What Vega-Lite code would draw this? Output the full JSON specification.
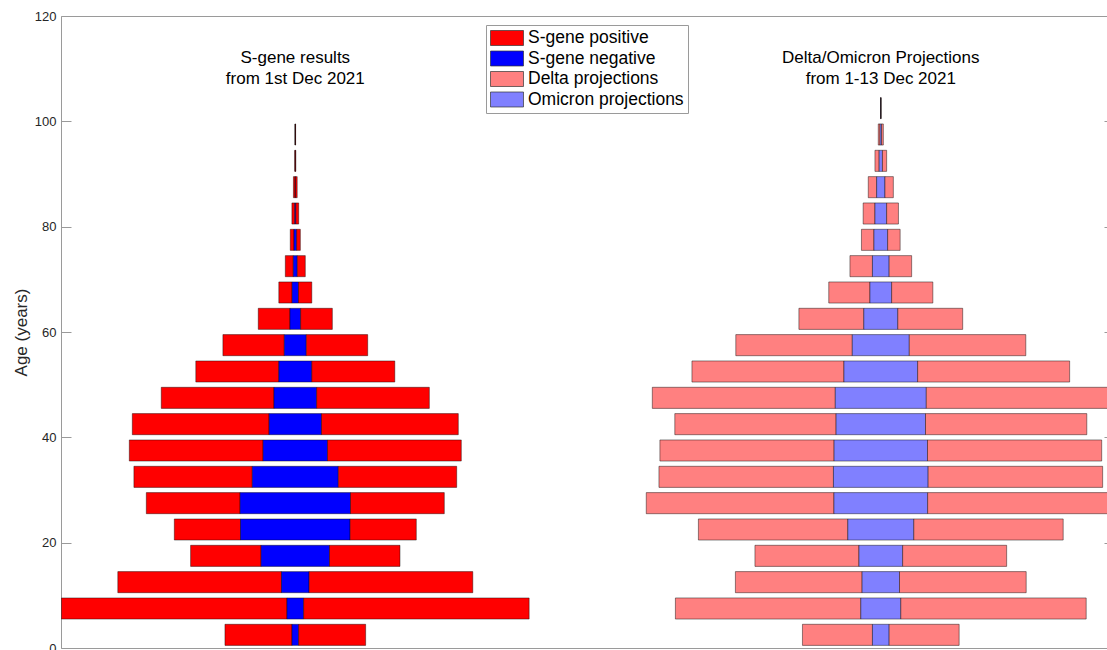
{
  "$schema": "https://vega.github.io/schema/vega-lite/v6.json",
  "width": 1046,
  "height": 632,
  "autosize": {"type": "none"},
  "padding": {"left": 61, "top": 16, "right": 0, "bottom": 2},
  "background": "white",
  "datasets": {
    "sgene": [
      {"age": 2.5, "type": "S-gene positive", "order": 1, "value": 67.0},
      {"age": 2.5, "type": "S-gene negative", "order": 2, "value": 6.7},
      {"age": 2.5, "type": "S-gene positive", "order": 3, "value": 67.0},
      {"age": 7.5, "type": "S-gene positive", "order": 1, "value": 225.5},
      {"age": 7.5, "type": "S-gene negative", "order": 2, "value": 16.7},
      {"age": 7.5, "type": "S-gene positive", "order": 3, "value": 225.5},
      {"age": 12.5, "type": "S-gene positive", "order": 1, "value": 163.7},
      {"age": 12.5, "type": "S-gene negative", "order": 2, "value": 27.6},
      {"age": 12.5, "type": "S-gene positive", "order": 3, "value": 163.7},
      {"age": 17.5, "type": "S-gene positive", "order": 1, "value": 70.5},
      {"age": 17.5, "type": "S-gene negative", "order": 2, "value": 68.4},
      {"age": 17.5, "type": "S-gene positive", "order": 3, "value": 70.5},
      {"age": 22.5, "type": "S-gene positive", "order": 1, "value": 66.2},
      {"age": 22.5, "type": "S-gene negative", "order": 2, "value": 109.6},
      {"age": 22.5, "type": "S-gene positive", "order": 3, "value": 66.2},
      {"age": 27.5, "type": "S-gene positive", "order": 1, "value": 93.8},
      {"age": 27.5, "type": "S-gene negative", "order": 2, "value": 110.4},
      {"age": 27.5, "type": "S-gene positive", "order": 3, "value": 93.8},
      {"age": 32.5, "type": "S-gene positive", "order": 1, "value": 118.4},
      {"age": 32.5, "type": "S-gene negative", "order": 2, "value": 86.0},
      {"age": 32.5, "type": "S-gene positive", "order": 3, "value": 118.4},
      {"age": 37.5, "type": "S-gene positive", "order": 1, "value": 133.8},
      {"age": 37.5, "type": "S-gene negative", "order": 2, "value": 64.4},
      {"age": 37.5, "type": "S-gene positive", "order": 3, "value": 133.8},
      {"age": 42.5, "type": "S-gene positive", "order": 1, "value": 136.8},
      {"age": 42.5, "type": "S-gene negative", "order": 2, "value": 52.4},
      {"age": 42.5, "type": "S-gene positive", "order": 3, "value": 136.8},
      {"age": 47.5, "type": "S-gene positive", "order": 1, "value": 112.7},
      {"age": 47.5, "type": "S-gene negative", "order": 2, "value": 42.7},
      {"age": 47.5, "type": "S-gene positive", "order": 3, "value": 112.7},
      {"age": 52.5, "type": "S-gene positive", "order": 1, "value": 83.0},
      {"age": 52.5, "type": "S-gene negative", "order": 2, "value": 33.0},
      {"age": 52.5, "type": "S-gene positive", "order": 3, "value": 83.0},
      {"age": 57.5, "type": "S-gene positive", "order": 1, "value": 61.4},
      {"age": 57.5, "type": "S-gene negative", "order": 2, "value": 22.0},
      {"age": 57.5, "type": "S-gene positive", "order": 3, "value": 61.4},
      {"age": 62.5, "type": "S-gene positive", "order": 1, "value": 31.7},
      {"age": 62.5, "type": "S-gene negative", "order": 2, "value": 10.7},
      {"age": 62.5, "type": "S-gene positive", "order": 3, "value": 31.7},
      {"age": 67.5, "type": "S-gene positive", "order": 1, "value": 13.3},
      {"age": 67.5, "type": "S-gene negative", "order": 2, "value": 6.4},
      {"age": 67.5, "type": "S-gene positive", "order": 3, "value": 13.3},
      {"age": 72.5, "type": "S-gene positive", "order": 1, "value": 8.0},
      {"age": 72.5, "type": "S-gene negative", "order": 2, "value": 4.0},
      {"age": 72.5, "type": "S-gene positive", "order": 3, "value": 8.0},
      {"age": 77.5, "type": "S-gene positive", "order": 1, "value": 3.7},
      {"age": 77.5, "type": "S-gene negative", "order": 2, "value": 2.7},
      {"age": 77.5, "type": "S-gene positive", "order": 3, "value": 3.7},
      {"age": 82.5, "type": "S-gene positive", "order": 1, "value": 2.9},
      {"age": 82.5, "type": "S-gene negative", "order": 2, "value": 1.0},
      {"age": 82.5, "type": "S-gene positive", "order": 3, "value": 2.9},
      {"age": 87.5, "type": "S-gene positive", "order": 1, "value": 1.7},
      {"age": 87.5, "type": "S-gene negative", "order": 2, "value": 0.4},
      {"age": 87.5, "type": "S-gene positive", "order": 3, "value": 1.7},
      {"age": 92.5, "type": "S-gene positive", "order": 1, "value": 0.5},
      {"age": 92.5, "type": "S-gene negative", "order": 2, "value": 0.1},
      {"age": 92.5, "type": "S-gene positive", "order": 3, "value": 0.5},
      {"age": 97.5, "type": "S-gene positive", "order": 1, "value": 0.3},
      {"age": 97.5, "type": "S-gene negative", "order": 2, "value": 0.05},
      {"age": 97.5, "type": "S-gene positive", "order": 3, "value": 0.3}
    ],
    "proj": [
      {"age": 2.5, "type": "Delta projections", "order": 1, "value": 70.0},
      {"age": 2.5, "type": "Omicron projections", "order": 2, "value": 16.7},
      {"age": 2.5, "type": "Delta projections", "order": 3, "value": 70.0},
      {"age": 7.5, "type": "Delta projections", "order": 1, "value": 185.4},
      {"age": 7.5, "type": "Omicron projections", "order": 2, "value": 40.0},
      {"age": 7.5, "type": "Delta projections", "order": 3, "value": 185.4},
      {"age": 12.5, "type": "Delta projections", "order": 1, "value": 126.7},
      {"age": 12.5, "type": "Omicron projections", "order": 2, "value": 37.4},
      {"age": 12.5, "type": "Delta projections", "order": 3, "value": 126.7},
      {"age": 17.5, "type": "Delta projections", "order": 1, "value": 104.0},
      {"age": 17.5, "type": "Omicron projections", "order": 2, "value": 43.7},
      {"age": 17.5, "type": "Delta projections", "order": 3, "value": 104.0},
      {"age": 22.5, "type": "Delta projections", "order": 1, "value": 149.4},
      {"age": 22.5, "type": "Omicron projections", "order": 2, "value": 66.0},
      {"age": 22.5, "type": "Delta projections", "order": 3, "value": 149.4},
      {"age": 27.5, "type": "Delta projections", "order": 1, "value": 187.7},
      {"age": 27.5, "type": "Omicron projections", "order": 2, "value": 93.7},
      {"age": 27.5, "type": "Delta projections", "order": 3, "value": 187.7},
      {"age": 32.5, "type": "Delta projections", "order": 1, "value": 174.5},
      {"age": 32.5, "type": "Omicron projections", "order": 2, "value": 94.7},
      {"age": 32.5, "type": "Delta projections", "order": 3, "value": 174.5},
      {"age": 37.5, "type": "Delta projections", "order": 1, "value": 174.2},
      {"age": 37.5, "type": "Omicron projections", "order": 2, "value": 93.4},
      {"age": 37.5, "type": "Delta projections", "order": 3, "value": 174.2},
      {"age": 42.5, "type": "Delta projections", "order": 1, "value": 161.3},
      {"age": 42.5, "type": "Omicron projections", "order": 2, "value": 89.4},
      {"age": 42.5, "type": "Delta projections", "order": 3, "value": 161.3},
      {"age": 47.5, "type": "Delta projections", "order": 1, "value": 183.0},
      {"age": 47.5, "type": "Omicron projections", "order": 2, "value": 91.0},
      {"age": 47.5, "type": "Delta projections", "order": 3, "value": 183.0},
      {"age": 52.5, "type": "Delta projections", "order": 1, "value": 152.0},
      {"age": 52.5, "type": "Omicron projections", "order": 2, "value": 73.7},
      {"age": 52.5, "type": "Delta projections", "order": 3, "value": 152.0},
      {"age": 57.5, "type": "Delta projections", "order": 1, "value": 116.5},
      {"age": 57.5, "type": "Omicron projections", "order": 2, "value": 57.0},
      {"age": 57.5, "type": "Delta projections", "order": 3, "value": 116.5},
      {"age": 62.5, "type": "Delta projections", "order": 1, "value": 64.9},
      {"age": 62.5, "type": "Omicron projections", "order": 2, "value": 34.0},
      {"age": 62.5, "type": "Delta projections", "order": 3, "value": 64.9},
      {"age": 67.5, "type": "Delta projections", "order": 1, "value": 41.2},
      {"age": 67.5, "type": "Omicron projections", "order": 2, "value": 21.7},
      {"age": 67.5, "type": "Delta projections", "order": 3, "value": 41.2},
      {"age": 72.5, "type": "Delta projections", "order": 1, "value": 22.5},
      {"age": 72.5, "type": "Omicron projections", "order": 2, "value": 16.7},
      {"age": 72.5, "type": "Delta projections", "order": 3, "value": 22.5},
      {"age": 77.5, "type": "Delta projections", "order": 1, "value": 12.5},
      {"age": 77.5, "type": "Omicron projections", "order": 2, "value": 13.7},
      {"age": 77.5, "type": "Delta projections", "order": 3, "value": 12.5},
      {"age": 82.5, "type": "Delta projections", "order": 1, "value": 11.8},
      {"age": 82.5, "type": "Omicron projections", "order": 2, "value": 11.7},
      {"age": 82.5, "type": "Delta projections", "order": 3, "value": 11.8},
      {"age": 87.5, "type": "Delta projections", "order": 1, "value": 8.4},
      {"age": 87.5, "type": "Omicron projections", "order": 2, "value": 8.3},
      {"age": 87.5, "type": "Delta projections", "order": 3, "value": 8.4},
      {"age": 92.5, "type": "Delta projections", "order": 1, "value": 4.2},
      {"age": 92.5, "type": "Omicron projections", "order": 2, "value": 3.3},
      {"age": 92.5, "type": "Delta projections", "order": 3, "value": 4.2},
      {"age": 97.5, "type": "Delta projections", "order": 1, "value": 1.8},
      {"age": 97.5, "type": "Omicron projections", "order": 2, "value": 1.5},
      {"age": 97.5, "type": "Delta projections", "order": 3, "value": 1.8},
      {"age": 102.5, "type": "Delta projections", "order": 1, "value": 0.2},
      {"age": 102.5, "type": "Omicron projections", "order": 2, "value": 0.2},
      {"age": 102.5, "type": "Delta projections", "order": 3, "value": 0.2}
    ]
  },
  "layer": [
    {
      "data": {"name": "sgene"},
      "layer": [
        {
          "mark": {"type": "bar", "orient": "horizontal", "height": 21.1, "clip": true, "stroke": "#000000", "strokeWidth": 0.6, "strokeOpacity": 0.7},
          "encoding": {
            "y": {"field": "age", "type": "quantitative", "scale": {"domain": [0, 120], "nice": false, "zero": true, "padding": 0},
                  "axis": {"title": "Age (years)", "values": [0, 20, 40, 60, 80, 100, 120], "orient": "left", "tickSize": -10, "labelPadding": 15, "domain": true}},
            "x": {"field": "value", "type": "quantitative", "stack": "center",
                  "scale": {"domain": [-0.45, 1045.55], "nice": false, "zero": false},
                  "axis": {"orient": "bottom", "domain": true, "ticks": false, "labels": false, "title": null, "grid": false}},
            "order": {"field": "order", "type": "quantitative"},
            "color": {"field": "type", "type": "nominal",
                      "scale": {"domain": ["S-gene positive", "S-gene negative", "Delta projections", "Omicron projections"],
                                "range": ["#ff0000", "#0000ff", "#ff8080", "#8080ff"]}}
          }
        },
        {
          "data": {"values": [{}]},
          "mark": {"type": "text", "text": ["S-gene results", "from 1st Dec 2021"], "font": "Liberation Sans", "fontSize": 17, "align": "center", "baseline": "alphabetic", "lineHeight": 21, "color": "#000000"},
          "encoding": {
            "x": {"datum": 233.85, "type": "quantitative"},
            "y": {"datum": 111, "type": "quantitative"}
          }
        }
      ]
    },
    {
      "data": {"name": "proj"},
      "layer": [
        {
          "mark": {"type": "bar", "orient": "horizontal", "height": 21.1, "clip": true, "stroke": "#000000", "strokeWidth": 0.8, "strokeOpacity": 0.55},
          "encoding": {
            "y": {"field": "age", "type": "quantitative", "scale": {"domain": [0, 120], "nice": false, "zero": true, "padding": 0},
                  "axis": {"title": null, "values": [0, 20, 40, 60, 80, 100, 120], "orient": "right", "labels": false, "domain": false, "tickSize": -3}},
            "x": {"field": "value", "type": "quantitative", "stack": "center",
                  "scale": {"domain": [-585.25, 460.75], "nice": false, "zero": false},
                  "axis": {"orient": "top", "domain": true, "ticks": false, "labels": false, "title": null, "grid": false}},
            "order": {"field": "order", "type": "quantitative"},
            "color": {"field": "type", "type": "nominal",
                      "scale": {"domain": ["S-gene positive", "S-gene negative", "Delta projections", "Omicron projections"],
                                "range": ["#ff0000", "#0000ff", "#ff8080", "#8080ff"]}}
          }
        },
        {
          "data": {"values": [{}]},
          "mark": {"type": "text", "text": ["Delta/Omicron Projections", "from 1-13 Dec 2021"], "font": "Liberation Sans", "fontSize": 17, "align": "center", "baseline": "alphabetic", "lineHeight": 21, "color": "#000000"},
          "encoding": {
            "x": {"datum": 234.55, "type": "quantitative"},
            "y": {"datum": 111, "type": "quantitative"}
          }
        }
      ]
    }
  ],
  "resolve": {"scale": {"x": "independent"}, "axis": {"y": "independent"}},
  "config": {
    "font": "Liberation Sans",
    "view": {"stroke": null},
    "axis": {
      "domainColor": "#9a9a9a", "domainWidth": 1, "tickColor": "#9a9a9a", "tickWidth": 1, "grid": false,
      "labelFont": "Liberation Sans", "labelFontSize": 13, "labelColor": "#262626",
      "titleFont": "Liberation Sans", "titleFontSize": 17, "titleFontWeight": "normal", "titleColor": "#262626"
    },
    "legend": {
      "orient": "none", "legendX": 425, "legendY": 9, "title": null,
      "direction": "vertical",
      "fillColor": "#ffffff", "strokeColor": "#9a9a9a", "cornerRadius": 0, "padding": 4,
      "rowPadding": 2.5, "labelOffset": 20,
      "symbolType": "M-1,-0.882H2.882V0.882H-1Z", "symbolSize": 289,
      "symbolStrokeColor": "#333333", "symbolStrokeWidth": 0.7, "symbolOpacity": 1,
      "labelFont": "Liberation Sans", "labelFontSize": 17.5, "labelColor": "#000000", "labelLimit": 400
    }
  }
}
